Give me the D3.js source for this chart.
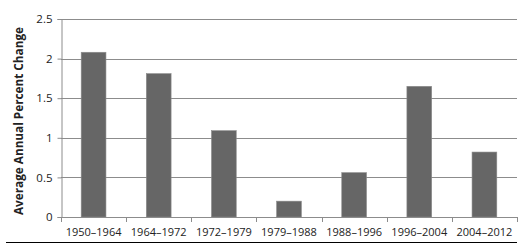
<!DOCTYPE html>
<html>
<head>
<meta charset="utf-8">
<script src="https://cdn.jsdelivr.net/npm/d3@7"></script>
<style>
  body { margin: 0; background: #fff; }
  text { font-family: "Open Sans", "Liberation Sans", sans-serif; fill: #222; }
</style>
</head>
<body>
<svg width="526" height="249"></svg>
<script>
var periods = ['1950\u20131964', '1964\u20131972', '1972\u20131979', '1979\u20131988',
  '1988\u20131996', '1996\u20132004', '2004\u20132012'];
var changes = [2.08, 1.81, 1.09, 0.2, 0.56, 1.65, 0.82];
var yTicks = [0, 0.5, 1, 1.5, 2, 2.5];

var svg = d3.select('svg');
var plotLeft = 61, plotRight = 517, plotTop = 19, plotBottom = 217;

var x = d3.scaleBand()
  .domain(periods)
  .range([plotLeft, plotRight])
  .paddingInner(0.62)
  .paddingOuter(0.31);

var y = d3.scaleLinear()
  .domain([0, 2.5])
  .range([plotBottom, plotTop]);

// gridlines
svg.append('g')
  .selectAll('line')
  .data(yTicks.slice(1))
  .enter().append('line')
  .attr('x1', plotLeft)
  .attr('x2', plotRight)
  .attr('y1', function(d) { return Math.round(y(d)) + 0.5; })
  .attr('y2', function(d) { return Math.round(y(d)) + 0.5; })
  .attr('stroke', '#8c8c8c')
  .attr('stroke-width', 1);

// bars
svg.append('g')
  .selectAll('rect')
  .data(periods)
  .enter().append('rect')
  .attr('x', function(d) { return x(d); })
  .attr('y', function(d, i) { return y(changes[i]); })
  .attr('width', x.bandwidth())
  .attr('height', function(d, i) { return plotBottom - y(changes[i]); })
  .attr('fill', '#666666')
  .attr('stroke', '#8a8a8a')
  .attr('stroke-width', 0.6);

// y axis
var yAxis = svg.append('g')
  .attr('transform', 'translate(' + (plotLeft + 0.5) + ',0)')
  .call(d3.axisLeft(y).tickValues(yTicks).tickSize(4).tickPadding(5)
    .tickFormat(function(d) { return d; }));
yAxis.select('.domain').attr('stroke', '#8c8c8c');
yAxis.selectAll('.tick line').attr('stroke', '#8c8c8c');
yAxis.selectAll('text').style('font-size', '11.5px').attr('fill', '#222');

// x axis line with tick marks between categories
var xAxis = svg.append('g');
xAxis.append('line')
  .attr('x1', plotLeft).attr('x2', plotRight)
  .attr('y1', plotBottom + 0.5).attr('y2', plotBottom + 0.5)
  .attr('stroke', '#8c8c8c');
var step = x.step();
xAxis.selectAll('line.sep')
  .data(d3.range(periods.length + 1))
  .enter().append('line')
  .attr('class', 'sep')
  .attr('x1', function(i) { return Math.round(plotLeft + i * step) + 0.5; })
  .attr('x2', function(i) { return Math.round(plotLeft + i * step) + 0.5; })
  .attr('y1', plotBottom)
  .attr('y2', plotBottom + 5)
  .attr('stroke', '#8c8c8c');
xAxis.selectAll('text')
  .data(periods)
  .enter().append('text')
  .attr('x', function(d) { return x(d) + x.bandwidth() / 2; })
  .attr('y', 236)
  .attr('text-anchor', 'middle')
  .style('font-size', '11px')
  .text(function(d) { return d; });

// y title
svg.append('text')
  .attr('transform', 'translate(23,121)rotate(-90)')
  .attr('text-anchor', 'middle')
  .attr('textLength', 188)
  .attr('lengthAdjust', 'spacingAndGlyphs')
  .style('font-size', '12px')
  .style('font-weight', 'bold')
  .text('Average Annual Percent Change');

// bottom rule
svg.append('line')
  .attr('x1', 6).attr('x2', 517)
  .attr('y1', 242.5).attr('y2', 242.5)
  .attr('stroke', '#000')
  .attr('stroke-width', 1.2);
</script>
</body>
</html>
